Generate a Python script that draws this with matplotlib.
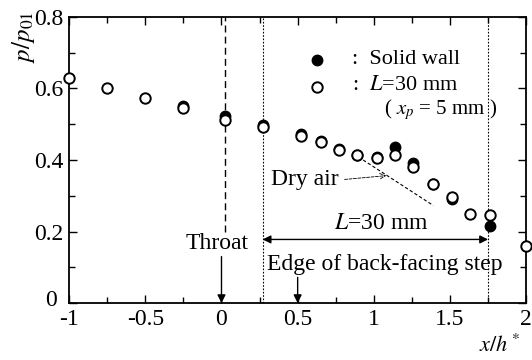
import numpy as np
import matplotlib.pyplot as plt
import matplotlib.transforms as mtransforms
from matplotlib.ticker import MultipleLocator

plt.rcParams['font.family'] = ['Liberation Serif', 'DejaVu Serif']
plt.rcParams['mathtext.fontset'] = 'stix'
plt.rcParams['axes.unicode_minus'] = False

# L = 30 mm (x_p = 5 mm), open circles
x_open = [-1.0, -0.75, -0.5, -0.25, 0.02, 0.27, 0.52, 0.65, 0.77, 0.89, 1.02,
          1.14, 1.26, 1.39, 1.51, 1.63, 1.76, 2.0]
p_open = [0.630, 0.600, 0.574, 0.546, 0.513, 0.493, 0.466, 0.449, 0.429, 0.413,
          0.407, 0.413, 0.380, 0.332, 0.296, 0.250, 0.245, 0.160]

# solid wall, filled circles
x_solid = [-0.25, 0.02, 0.27, 0.52, 0.65, 0.77, 0.89, 1.02, 1.14, 1.26, 1.39, 1.51, 1.76]
p_solid = [0.552, 0.524, 0.499, 0.472, 0.452, 0.432, 0.414, 0.409, 0.435, 0.392,
           0.334, 0.291, 0.215]

x_throat = 0.02
x_step_start = 0.27
x_step_end = 1.75

fs = 17

fig = plt.figure(figsize=(5.32, 3.6), dpi=100)
ax = fig.add_axes([0.13, 0.158, 0.859, 0.795])

ax.plot(x_solid, p_solid, 'o', color='black', markersize=7.5, zorder=3)
ax.plot(x_open, p_open, 'o', markerfacecolor='white', markeredgecolor='black',
        markeredgewidth=1.4, markersize=7.5, zorder=4, clip_on=False)

# reference lines
ax.plot([x_throat, x_throat], [0.2, 0.8], color='black', lw=1.0, dashes=(5, 3))
ax.axvline(x_step_start, color='black', lw=0.8, ls=(0, (1.5, 1.5)))
ax.axvline(x_step_end, color='black', lw=0.8, ls=(0, (1.5, 1.5)))

# dry air line
ax.plot([0.93, 1.39], [0.40, 0.273], color='black', lw=0.8, dashes=(3, 2))
ax.annotate('', xy=(1.10, 0.357), xytext=(0.79, 0.345),
            arrowprops=dict(arrowstyle='->', lw=0.6, ls='--', color='black'))
ax.text(0.77, 0.345, 'Dry air', ha='right', va='center', fontsize=fs)

# L=30 mm arrow
ax.annotate('', xy=(x_step_start, 0.178), xytext=(x_step_end, 0.178),
            arrowprops=dict(arrowstyle='<|-|>', lw=1.0, color='black',
                            mutation_scale=12, shrinkA=0, shrinkB=0))
ax.text(1.05, 0.222, r'$L$=30 mm', ha='center', va='center', fontsize=fs)

# throat / edge arrows
ax.text(-0.03, 0.168, 'Throat', ha='center', va='center', fontsize=fs)
ax.annotate('', xy=(0.0, 0.0), xytext=(0.0, 0.13),
            arrowprops=dict(arrowstyle='-|>', lw=1.0, color='black',
                            mutation_scale=12, shrinkA=0, shrinkB=0))
ax.text(1.07, 0.108, 'Edge of back-facing step', ha='center', va='center', fontsize=fs)
ax.annotate('', xy=(0.5, 0.0), xytext=(0.5, 0.072),
            arrowprops=dict(arrowstyle='-|>', lw=1.0, color='black',
                            mutation_scale=12, shrinkA=0, shrinkB=0))

# legend
ax.plot([0.63], [0.68], 'o', color='black', markersize=7.5)
ax.plot([0.63], [0.605], 'o', markerfacecolor='white', markeredgecolor='black',
        markeredgewidth=1.4, markersize=7.5)
ax.text(0.86, 0.68, ':  Solid wall', ha='left', va='center', fontsize=16)
ax.text(0.86, 0.607, r':  $L$=30 mm', ha='left', va='center', fontsize=16)
ax.text(1.44, 0.54, r'( $x_p$ = 5 mm )', ha='center', va='center', fontsize=15)

ax.set_xlim(-1, 2)
ax.set_ylim(0, 0.8)
ax.xaxis.set_minor_locator(MultipleLocator(0.25))
ax.yaxis.set_minor_locator(MultipleLocator(0.1))
ax.set_xticks([-1, -0.5, 0, 0.5, 1, 1.5, 2])
ax.set_xticklabels(['-1', '-0.5', '0', '0.5', '1', '1.5', '2'])
ax.set_yticks([0, 0.2, 0.4, 0.6, 0.8])
ax.set_yticklabels(['0', '0.2', '0.4', '0.6', '0.8'])
ax.tick_params(which='both', direction='in', top=True, right=True, labelsize=fs, width=1.0)
ax.tick_params(which='major', length=6, pad=4)
ax.tick_params(which='minor', length=4)
for s in ax.spines.values():
    s.set_linewidth(1.3)

# nudge the y "0" label left/up so it clears the x "-1" label
zero_lab = ax.get_yticklabels()[0]
zero_lab.set_transform(zero_lab.get_transform() +
                       mtransforms.ScaledTranslation(-5 / 72, 4 / 72, fig.dpi_scale_trans))

fig.text(0.045, 0.97, r'$p/p_{01}$', rotation=90, ha='center', va='top', fontsize=18)
fig.text(0.94, 0.04, r'$x/h^*$', ha='center', va='center', fontsize=16)

fig.savefig('out.png', dpi=100)
